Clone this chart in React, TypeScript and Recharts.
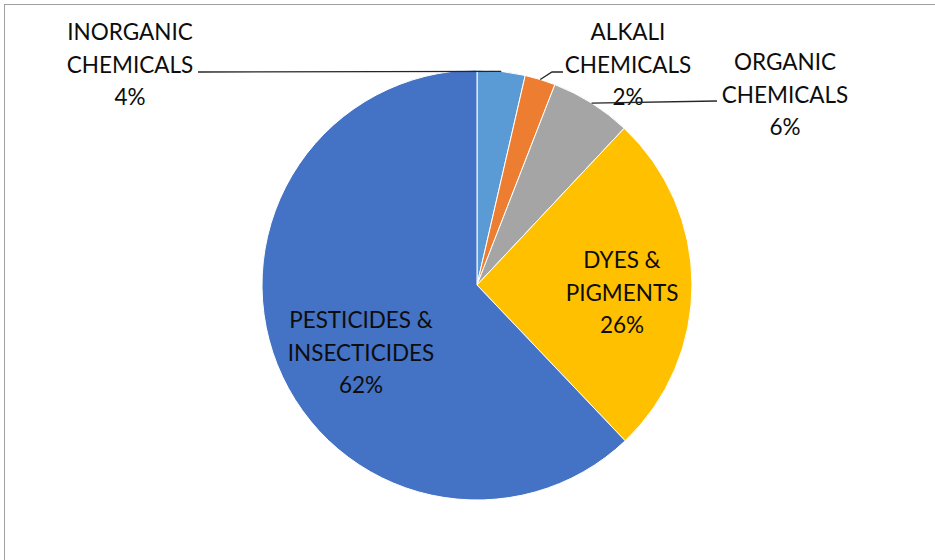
import { PieChart, Pie, Cell } from 'recharts';

const categories = [
    'INORGANIC CHEMICALS',
    'ALKALI CHEMICALS',
    'ORGANIC CHEMICALS',
    'DYES & PIGMENTS',
    'PESTICIDES & INSECTICIDES',
];
const shares = [3.6, 2.3, 6.1, 25.9, 62.1];
const colors = ['#5B9BD5', '#ED7D31', '#A5A5A5', '#FFC000', '#4472C4'];

const data = categories.map((name, i) => ({ name, value: shares[i] }));

// where each label sits, relative to the pie centre (first baseline, centred)
const labelPlace = [
    { dx: -347, dy: -245, leader: [[-279, -213]] },
    { dx: 151, dy: -245, leader: [[75, -213], [86, -213]] },
    { dx: 308, dy: -215, leader: [[240, -184]] },
    { dx: 145, dy: -17, leader: [] },
    { dx: -116, dy: 43, leader: [] },
];

const RAD = Math.PI / 180;

function splitName(name: string) {
    const amp = name.indexOf(' & ');
    if (amp >= 0) return [name.slice(0, amp + 2), name.slice(amp + 3)];
    const sp = name.indexOf(' ');
    return [name.slice(0, sp), name.slice(sp + 1)];
}

function SliceLabel(props: any) {
    const { cx, cy, midAngle, outerRadius, percent, index, name } = props;
    const place = labelPlace[index];
    const lines = [...splitName(name), `${Math.round(percent * 100)}%`];
    const ax = cx + outerRadius * Math.cos(-midAngle * RAD);
    const ay = cy + outerRadius * Math.sin(-midAngle * RAD);
    const pts = place.leader.length
        ? [[ax, ay], ...place.leader.map(([x, y]) => [cx + x, cy + y])]
        : [];
    return (
        <g>
            {pts.length > 0 && (
                <polyline
                    points={pts.map((p) => p.join(',')).join(' ')}
                    fill="none"
                    stroke="#262626"
                    strokeWidth={1.3}
                />
            )}
            <text
                x={cx + place.dx}
                y={cy + place.dy}
                textAnchor="middle"
                fill="#0d0d0d"
                fontSize={22.5}
                fontFamily="Lato, 'Open Sans', sans-serif"
            >
                {lines.map((l, i) => (
                    <tspan key={i} x={cx + place.dx} dy={i === 0 ? 0 : 32.5}>
                        {l}
                    </tspan>
                ))}
            </text>
        </g>
    );
}

export default function App() {
    return (
        <div style={{ position: 'absolute', left: 0, top: 0, width: 935, height: 560, background: '#fff', overflow: 'hidden' }}>
            <div
                style={{
                    position: 'absolute',
                    left: 4,
                    top: 4,
                    width: 1000,
                    height: 1000,
                    borderTop: '1px solid #a0a0a0',
                    borderLeft: '1px solid #a0a0a0',
                }}
            />
            <div style={{ position: 'absolute', left: 0, top: 0 }}>
                <PieChart width={935} height={560} margin={{ top: 0, right: 0, bottom: 0, left: 0 }}>
                    <Pie
                        data={data}
                        dataKey="value"
                        nameKey="name"
                        cx={477}
                        cy={285}
                        outerRadius={215}
                        startAngle={90}
                        endAngle={-270}
                        stroke="#fff"
                        strokeWidth={1}
                        label={SliceLabel}
                        labelLine={false}
                        isAnimationActive={false}
                    >
                        {data.map((d, i) => (
                            <Cell key={d.name} fill={colors[i]} />
                        ))}
                    </Pie>
                </PieChart>
            </div>
        </div>
    );
}
